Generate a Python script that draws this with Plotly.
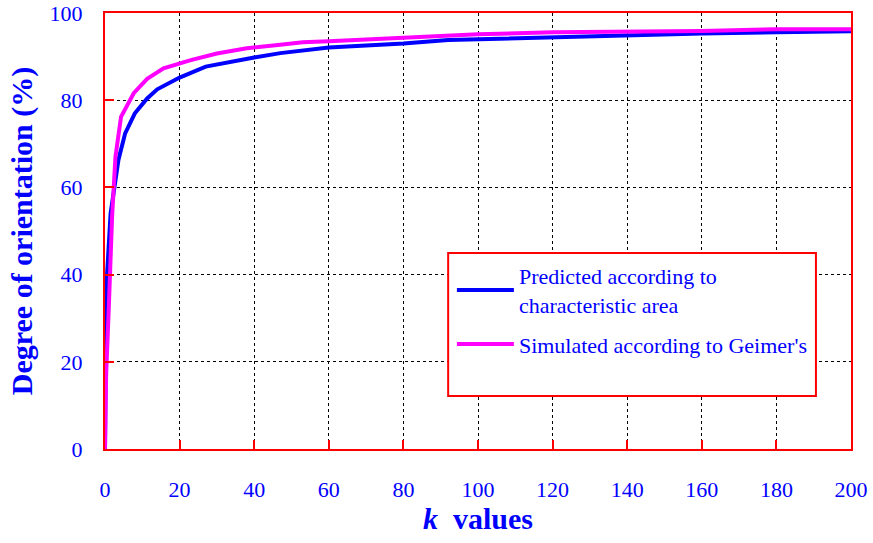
import plotly.graph_objects as go

# Data
k_pred = [0, 0.1, 0.35, 1.5, 3.6, 5.4, 8, 11.3, 14, 20, 27, 40, 47, 60, 80, 92, 100, 120, 140, 160, 180, 200]
deg_pred = [0, 15, 37, 54, 66.3, 72.4, 77.0, 80.4, 82.5, 85.2, 87.7, 89.8, 90.8, 92.1, 93.0, 93.8, 94.0, 94.4, 95.0, 95.3, 95.6, 95.8]

k_sim = [0, 0.3, 1.0, 1.9, 2.8, 4.3, 7.7, 11.3, 15.7, 23, 30, 38, 47, 53, 60, 80, 100, 120, 160, 180, 200]
deg_sim = [0, 17, 32, 53.3, 67, 76.2, 81.6, 84.9, 87.3, 89.2, 90.7, 91.9, 92.7, 93.3, 93.5, 94.4, 95.1, 95.6, 95.9, 96.3, 96.3]

name_pred = "Predicted according to<br>characteristic area"
name_sim = "Simulated according to Geimer's"

x_ticks = [0, 20, 40, 60, 80, 100, 120, 140, 160, 180, 200]
y_ticks = [0, 20, 40, 60, 80, 100]

FONT = "Liberation Serif, Times New Roman, serif"
BLUE = "#0000FF"
RED = "#FF0000"

fig = go.Figure()
fig.add_trace(go.Scatter(x=k_pred, y=deg_pred, mode="lines", name=name_pred,
                         legendgroup="a",
                         line=dict(color="#0000FF", width=4)))
fig.add_trace(go.Scatter(x=k_sim, y=deg_sim, mode="lines", name=name_sim,
                         legendgroup="b",
                         line=dict(color="#FF00FF", width=4)))

axis_common = dict(
    showline=True, linecolor=RED, linewidth=2, mirror=True,
    ticks="inside", tickcolor=RED, ticklen=9, tickwidth=2,
    showgrid=True, gridcolor="black", gridwidth=1, griddash="dot",
    zeroline=False, automargin=False,
    tickfont=dict(family=FONT, size=22, color=BLUE),
)

fig.update_xaxes(range=[0, 200], tickvals=x_ticks, ticklabelstandoff=20,
                 title=dict(text="<b><i>k</i>  values</b>", font=dict(family=FONT, size=30, color=BLUE), standoff=4),
                 **axis_common)
fig.update_yaxes(range=[0, 100], tickvals=y_ticks, ticklabelstandoff=16,
                 title=dict(text="<b>Degree of orientation (%)</b>", font=dict(family=FONT, size=30, color=BLUE), standoff=8),
                 **axis_common)

# legend frame
fig.add_shape(type="rect", xref="paper", yref="paper",
              x0=0.46, x1=0.953, y0=0.1216, y1=0.4495,
              line=dict(color=RED, width=2), fillcolor="white", layer="above")

fig.update_layout(
    width=873, height=543,
    margin=dict(l=105, r=22, t=13, b=94),
    plot_bgcolor="white", paper_bgcolor="white",
    font=dict(family=FONT, color=BLUE),
    legend=dict(x=0.465, y=0.445, xanchor="left", yanchor="top",
                bgcolor="rgba(0,0,0,0)", borderwidth=0, itemwidth=57,
                traceorder="grouped",
                font=dict(family=FONT, size=22, color=BLUE), tracegroupgap=8),
    showlegend=True,
)

fig.write_html("out.html")
